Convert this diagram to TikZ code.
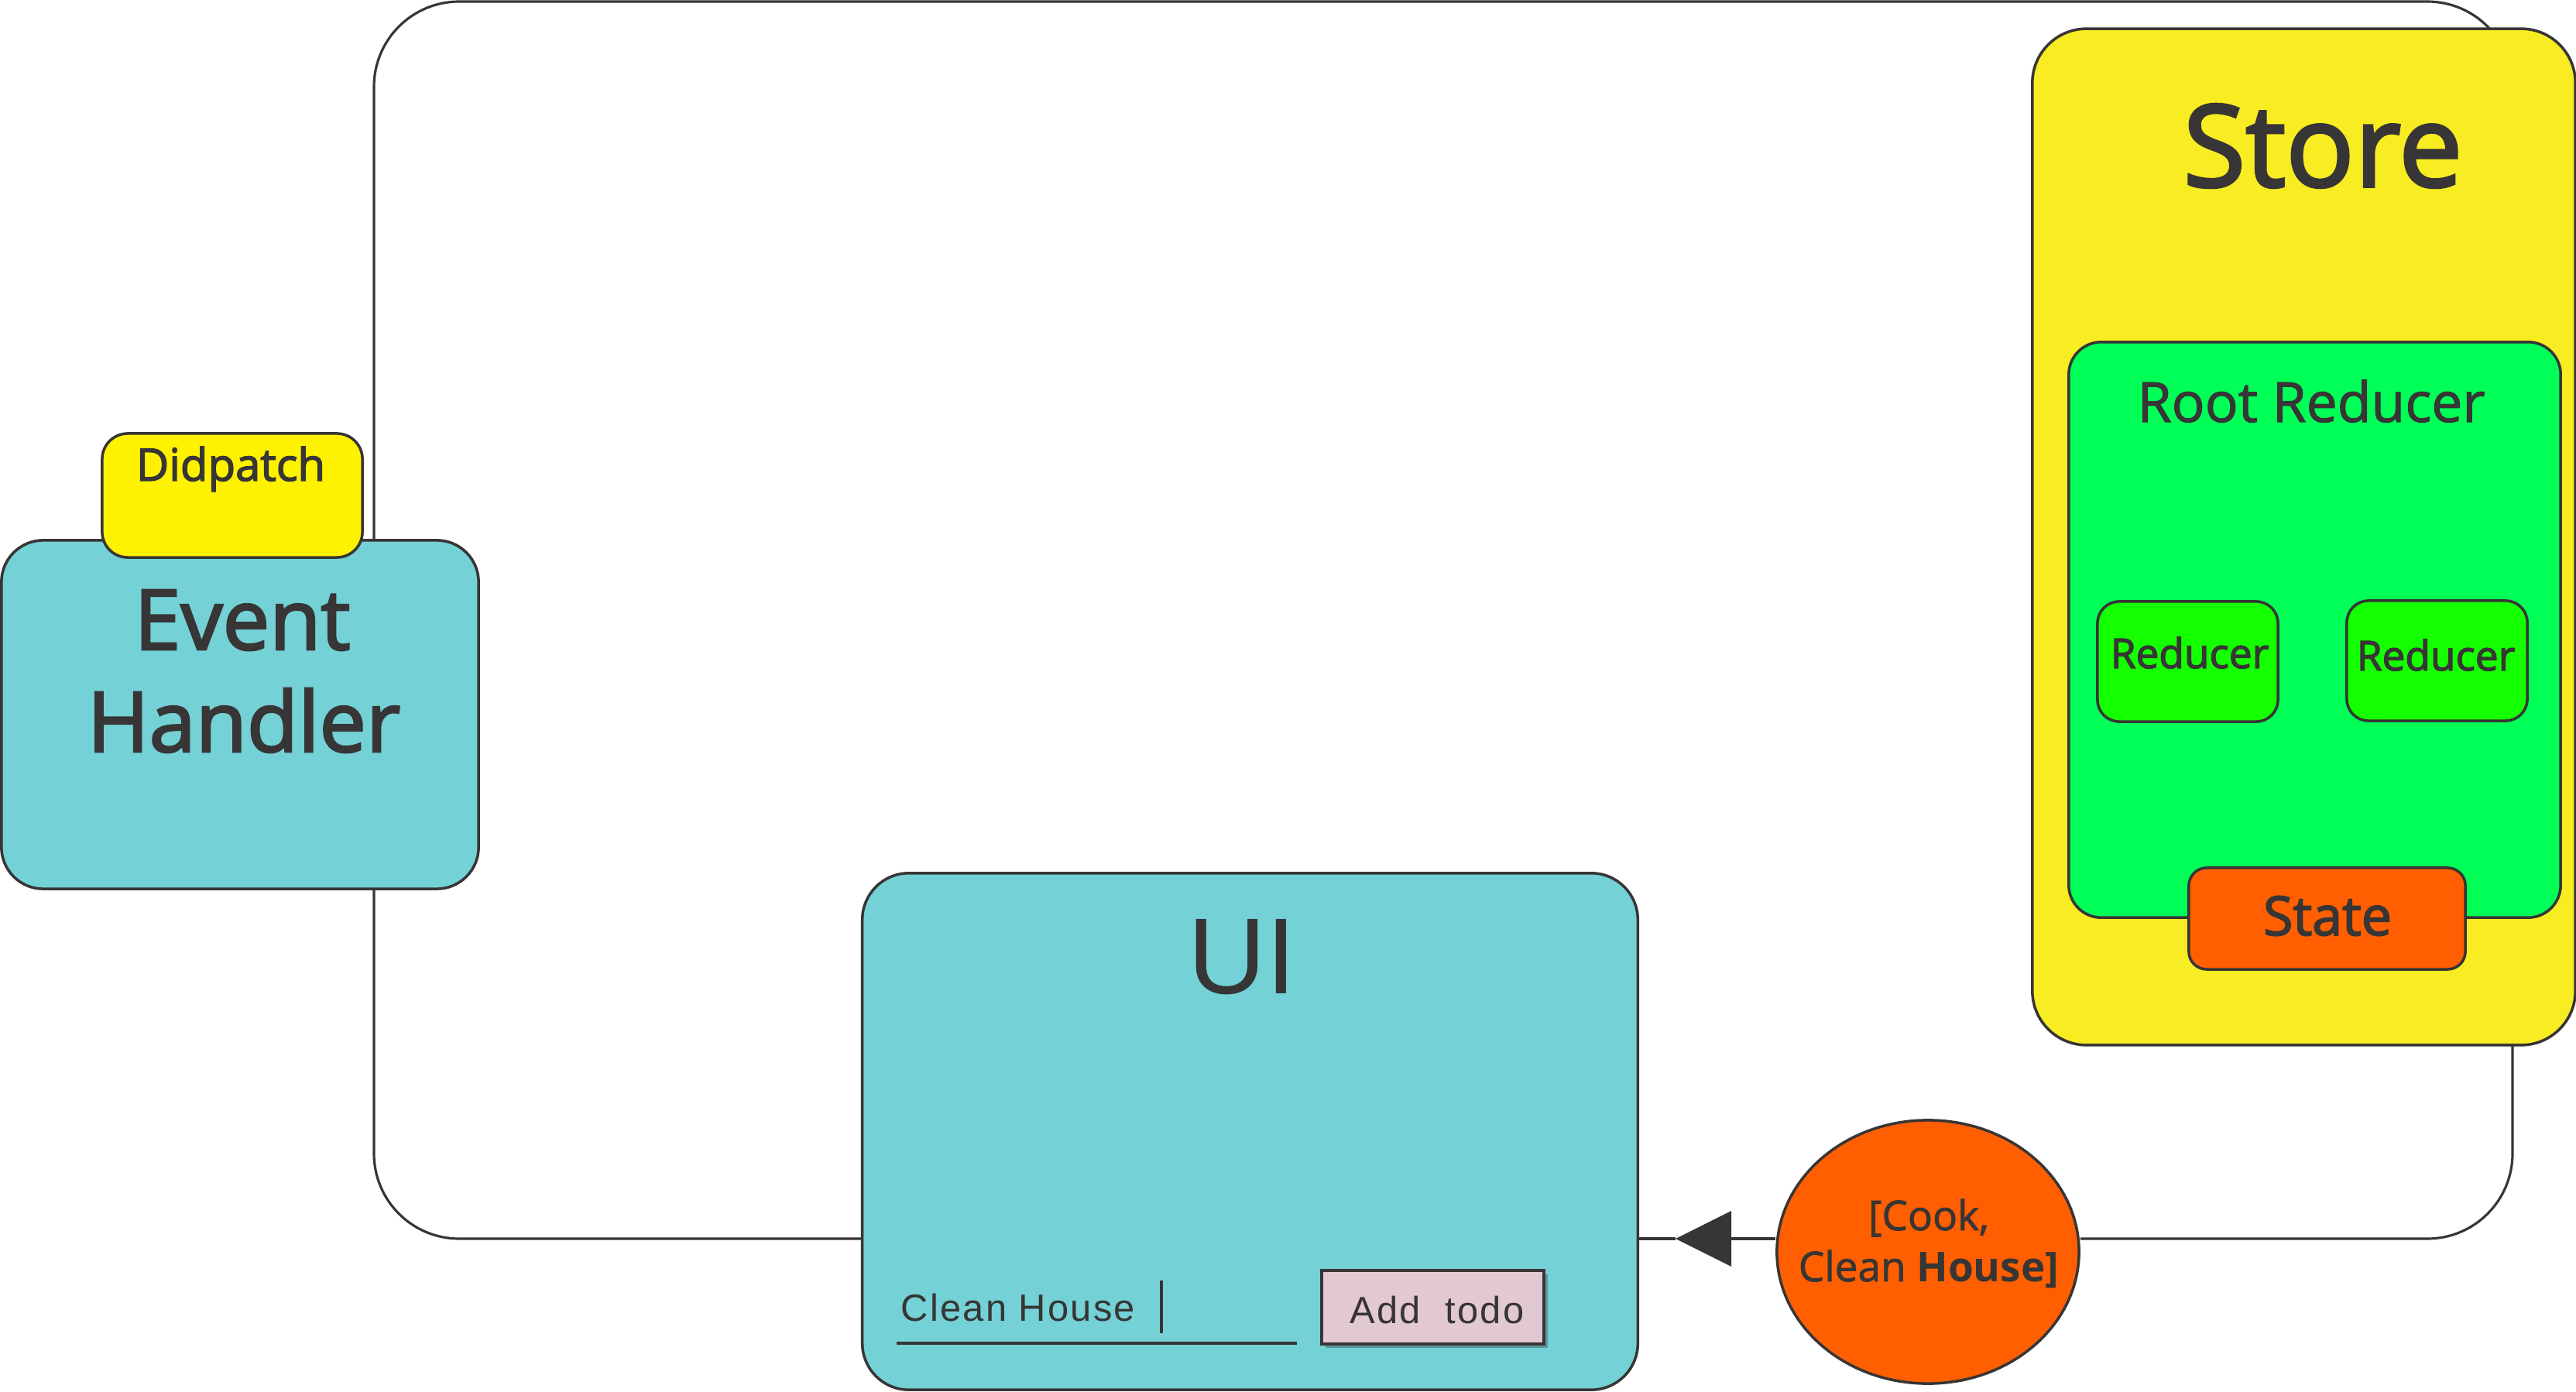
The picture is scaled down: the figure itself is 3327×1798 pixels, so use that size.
\documentclass[tikz,border=0pt]{standalone}
\usepackage{fontspec}
\setmainfont{Open Sans}
\newfontfamily\segoe[FakeBold=2.5]{Open Sans}
\newfontfamily\segolight[FakeBold=1.5]{Open Sans}
\newfontfamily\uifont{Liberation Sans}
\newfontfamily\uitext[LetterSpace=4.5]{Liberation Sans}
\usetikzlibrary{shapes.geometric,arrows.meta,shadows}
\definecolor{ink}{RGB}{55,53,53}
\definecolor{teal}{RGB}{116,209,213}
\definecolor{dpyellow}{RGB}{255,242,0}
\definecolor{storeyellow}{RGB}{248,236,34}
\definecolor{rootgreen}{RGB}{0,255,87}
\definecolor{redgreen}{RGB}{20,255,0}
\definecolor{stateorange}{RGB}{255,95,0}
\definecolor{btnpink}{RGB}{226,200,210}
\pgfdeclarelayer{bg}
\pgfsetlayers{bg,main}
\tikzset{
  box/.style={draw=ink, line width=1pt, inner sep=0pt, rectangle},
  lbl/.style={anchor=base, inner sep=0pt, text=ink},
  wire/.style={draw=ink, line width=0.9pt},
}
\begin{document}
\begin{tikzpicture}[x=0.01cm, y=-0.01cm]
\useasboundingbox (0,0) rectangle (3327,1798);

% Event handler + dispatch
\node[box, fill=teal, rounded corners=0.54cm, minimum width=6.16cm, minimum height=4.50cm] (eh) at (310,923) {};
\node[box, fill=dpyellow, rounded corners=0.33cm, minimum width=3.36cm, minimum height=1.60cm] (dp) at (300,640) {};
\node[lbl, font=\segoe\fontsize{30.7}{37}\selectfont] (ehl1) at (313,839) {Event};
\node[lbl, font=\segoe\fontsize{30.7}{37}\selectfont] (ehl2) at (315,971) {Handler};
\node[lbl, font=\segoe\fontsize{16.5}{20}\selectfont] (dpl) at (298,621) {Didpatch};

% Store
\node[box, fill=storeyellow, rounded corners=0.7cm, minimum width=7.01cm, minimum height=13.12cm] (store) at (2975.5,693.5) {};
\node[lbl, font=\segoe\fontsize{41.8}{50}\selectfont] (storel) at (3000,241) {Store};
\node[box, fill=rootgreen, rounded corners=0.42cm, minimum width=6.35cm, minimum height=7.43cm] (root) at (2989.5,813.5) {};
\node[lbl, font=\segolight\fontsize{20.3}{24}\selectfont] (rootl) at (2985,545) {Root Reducer};
\node[box, fill=redgreen, rounded corners=0.28cm, minimum width=2.33cm, minimum height=1.55cm] (red1) at (2825.5,854.5) {};
\node[box, fill=redgreen, rounded corners=0.28cm, minimum width=2.33cm, minimum height=1.55cm] (red2) at (3147.5,853.5) {};
\node[lbl, font=\segoe\fontsize{15.1}{18}\selectfont] (red1l) at (2828,863) {Reducer};
\node[lbl, font=\segoe\fontsize{15.1}{18}\selectfont] (red2l) at (3146,866) {Reducer};
\node[box, fill=stateorange, rounded corners=0.23cm, minimum width=3.57cm, minimum height=1.31cm] (state) at (3005.5,1186.5) {};
\node[lbl, font=\segoe\fontsize{19.9}{24}\selectfont] (statel) at (3006,1208) {State};

% UI
\node[box, fill=teal, rounded corners=0.6cm, minimum width=10.01cm, minimum height=6.67cm] (ui) at (1614.5,1461.5) {};
\node[lbl, font=\uifont\fontsize{39.7}{46}\selectfont] (uil) at (1604,1283) {UI};
\node[lbl, anchor=base west, font=\uitext\fontsize{13.9}{17}\selectfont] (input) at (1163,1706) {Clean House};
\draw[ink, line width=1.3pt] (1500,1654) -- (1500,1722);
\draw[ink, line width=1pt] (1158,1735) -- (1675,1735);
\node[box, fill=btnpink, rounded corners=0pt, minimum width=2.87cm, minimum height=0.95cm,
      drop shadow={shadow xshift=0.5mm, shadow yshift=-0.5mm, opacity=0.45, fill=black!70}] (add) at (1850.5,1688.5) {};
\node[lbl, font=\uitext\fontsize{13.9}{17}\selectfont] (addl) at (1856,1709) {Add\ \ todo};

% Action ellipse
\node[draw=ink, line width=1pt, fill=stateorange, ellipse, inner sep=0pt, minimum width=3.90cm, minimum height=3.40cm] (ell) at (2490,1617) {};
\node[lbl, font=\segolight\fontsize{15.1}{18}\selectfont] (ell1) at (2491,1589) {[Cook,};
\node[lbl, font=\fontsize{15.1}{18}\selectfont] (ell2) at (2491,1655) {{\segolight Clean} \textbf{House]}};

% Loop connectors
\coordinate (lb) at (483,1600);
\coordinate (lt) at (483,2);
\coordinate (rt) at (3245,2);
\coordinate (rb) at (3245,1600);
\coordinate (tip) at (2164,1600);
\begin{pgfonlayer}{bg}
\draw[wire, rounded corners=1.1cm] (ui.west |- rb) -- (lb) -- (lt) -- (rt) -- (rb) -- (ell.east |- rb);
\draw[wire] (tip) -- (ui.east |- rb);
\end{pgfonlayer}
\draw[wire, -{Triangle[length=7.2mm, width=7.1mm]}] (ell.west |- rb) -- (tip);
\end{tikzpicture}
\end{document}
